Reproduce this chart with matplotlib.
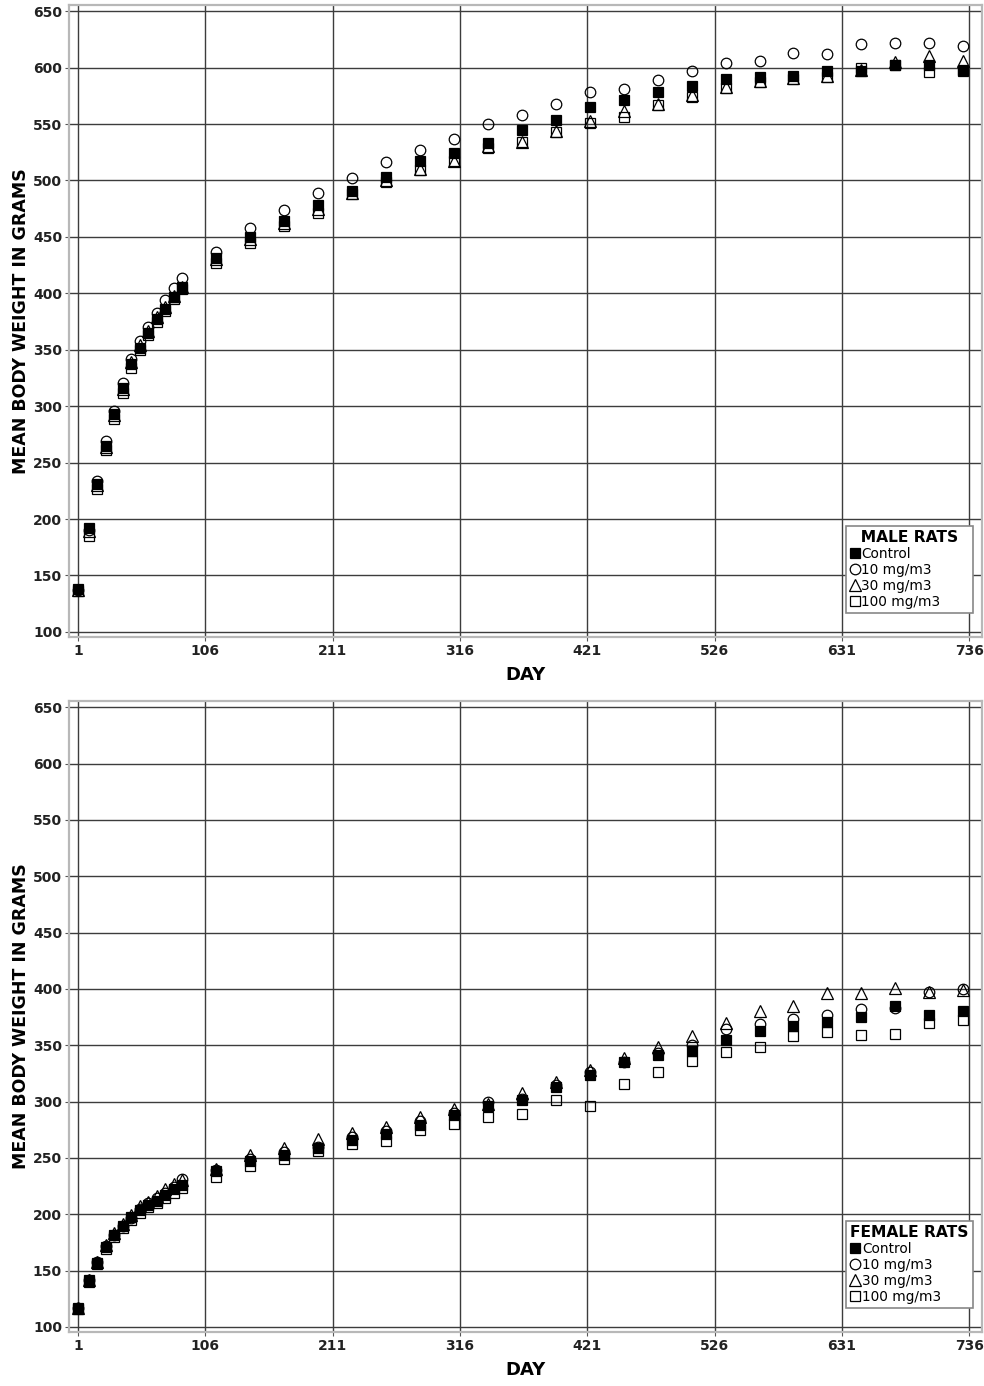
import matplotlib
matplotlib.use("Agg")
import matplotlib.pyplot as plt

days = [1, 10, 17, 24, 31, 38, 45, 52, 59, 66, 73, 80, 87, 115, 143, 171, 199, 227,
        255, 283, 311, 339, 367, 395, 423, 451, 479, 507, 535, 563, 591, 619, 647,
        675, 703, 731]

male_control = [138, 192, 231, 265, 293, 316, 337, 352, 365, 377, 386, 397, 406, 431,
                450, 464, 478, 491, 503, 517, 524, 533, 545, 554, 565, 571, 578, 584,
                590, 592, 593, 597, 597, 602, 602, 598]
male_10 = [137, 190, 233.5, 269, 296, 321, 342, 357.5, 370, 383, 394, 405, 414, 437,
           458, 474, 489, 502, 516, 527, 537, 550, 558, 568, 578, 581, 589, 597, 604,
           606, 613, 612, 621, 622, 622, 619]
male_30 = [137, 189, 230, 264, 292, 315, 339, 354, 367, 379, 388, 398, 406, 430, 448,
           462, 475, 489, 500, 510, 517, 531, 534, 544, 553, 562, 568, 576, 583, 588,
           591, 593, 598, 605, 610, 606]
male_100 = [136, 185, 227, 261, 289, 312, 334, 350, 363, 375, 384, 395, 404, 427, 445,
            460, 471, 488, 499, 509, 517, 529, 534, 543, 551, 556, 567, 574, 582, 587,
            590, 592, 600, 602, 596, 597]

female_control = [117, 142, 157, 171, 181.5, 190, 198, 204, 208, 212, 217, 222, 226,
                  238, 247, 253, 259, 266, 271, 279, 288, 296, 301, 313, 324, 335, 341,
                  345, 355, 363, 367, 371, 375, 385, 377, 380]
female_10 = [117, 142, 158, 172, 182, 190, 197, 205, 210, 214, 219, 224, 231, 239, 249,
             255, 260, 269, 274, 283, 290, 300, 302, 315, 326, 335, 343, 350, 364, 369,
             373, 377, 382, 383, 397, 400]
female_30 = [117, 142, 158, 173, 183, 191, 199, 207, 211, 216, 222, 227, 230, 240, 253,
             259, 267, 272, 277, 286, 293, 298, 308, 317, 328, 339, 348, 358, 370, 380,
             385, 396, 396, 401, 397, 399]
female_100 = [116, 140, 156, 169, 179.5, 188, 195, 201, 206, 210, 214, 219, 223, 233,
              243, 249, 256, 262, 265, 275, 280, 286, 289, 301, 296, 316, 326, 336, 344,
              348, 358, 362, 359, 360, 370, 372]

x_ticks = [1, 106, 211, 316, 421, 526, 631, 736]
y_ticks = [100, 150, 200, 250, 300, 350, 400, 450, 500, 550, 600, 650]
labels = ["Control", "10 mg/m3", "30 mg/m3", "100 mg/m3"]

plt.rcParams['font.family'] = ['DejaVu Sans']

W, H = 984, 1386
fig = plt.figure(figsize=(W / 100, H / 100), dpi=100)

def px_axes(l, t, r, b):
    return fig.add_axes([l / W, 1 - b / H, (r - l) / W, (b - t) / H])

ax_top = px_axes(69, 5, 982, 637)
ax_bot = px_axes(69, 701, 982, 1332)

styles = [
    dict(marker='s', mfc='black', mec='black', ms=7.8, zorder=5),
    dict(marker='o', mfc='none', mec='black', ms=7.6, zorder=4),
    dict(marker='^', mfc='none', mec='black', ms=8.0, zorder=3),
    dict(marker='s', mfc='none', mec='black', ms=7.6, zorder=2),
]

def draw(ax, series, title):
    for vals, st, lab in zip(series, styles, labels):
        ax.plot(days, vals, linestyle='none', mew=0.9, label=lab, **st)
    ax.set_xlim(-6.5, 746.5)
    ax.set_ylim(95.5, 655.5)
    ax.set_xticks(x_ticks)
    ax.set_yticks(y_ticks)
    ax.grid(True, color='#3c3c3c', linewidth=1.0, zorder=0)
    ax.set_axisbelow(True)
    for s in ax.spines.values():
        s.set_color('#b8b8b8')
        s.set_linewidth(1.6)
    ax.tick_params(axis='both', length=3, width=0.8, color='#555555',
                   labelsize=10, pad=2)
    for t in ax.get_xticklabels() + ax.get_yticklabels():
        t.set_fontweight('bold')
        t.set_color('#222222')
    ax.set_xlabel('DAY', fontsize=13, fontweight='bold', labelpad=6)
    ax.set_ylabel('MEAN BODY WEIGHT IN GRAMS', fontsize=12.5, fontweight='bold')
    leg = ax.legend(loc='lower right', bbox_to_anchor=(0.990, 0.038),
                    borderaxespad=0, title=title, fontsize=9.8,
                    title_fontproperties={'weight': 'bold', 'size': 11.2},
                    handlelength=0.7, handletextpad=0.15, labelspacing=0.15,
                    borderpad=0.3, fancybox=False, framealpha=1,
                    edgecolor='#888888', alignment='left')
    leg.get_frame().set_linewidth(1.2)
    leg.set_zorder(10)

draw(ax_top, [male_control, male_10, male_30, male_100], '  MALE RATS  ')
draw(ax_bot, [female_control, female_10, female_30, female_100], 'FEMALE RATS')

ax_top.yaxis.set_label_coords(-0.043, 0.5)
ax_bot.yaxis.set_label_coords(-0.043, 0.5)

fig.savefig('out.png', dpi=100)
